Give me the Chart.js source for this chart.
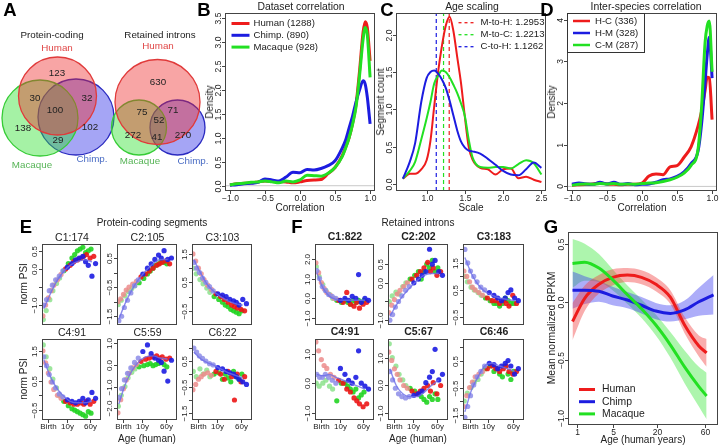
<!DOCTYPE html>
<html><head><meta charset="utf-8">
<script src="https://cdn.jsdelivr.net/npm/chart.js@4.4.1/dist/chart.umd.min.js"></script>
<style>
html,body{margin:0;padding:0;background:#fff;}
#fig{position:relative;width:720px;height:446px;overflow:hidden;background:#fff;font-family:"Liberation Sans",Arial,Helvetica,sans-serif;color:#222;}
#fig canvas{position:absolute;}
.t{position:absolute;white-space:nowrap;transform:translate(-50%,-50%);line-height:1;}
.v{transform:translate(-50%,-50%) rotate(-90deg);}
</style></head><body><div id="fig"></div>
<script>
// ===================== DATA =====================
// A: Venn counts (H only, H&M, H&C, all, M only, C only, M&C)
const vennSets=['Human','Macaque','Chimp.'];
const vennPC=[123,30,32,100,138,102,29];
const vennRI=[630,75,71,52,272,41,270];

// B: Dataset correlation densities
const bX=[-1.0,-0.9,-0.8,-0.7,-0.6,-0.5,-0.4,-0.3,-0.2,-0.1,0.0,0.1,0.2,0.3,0.4,0.5,0.6,0.65,0.7,0.75,0.8,0.85,0.9,0.93,0.96,1.0];
const bHuman=[0.02,0.04,0.05,0.06,0.08,0.1,0.09,0.09,0.08,0.06,0.08,0.11,0.12,0.13,0.25,0.38,0.62,0.8,1.0,1.3,1.7,2.4,3.2,3.42,3.3,2.6];
const bChimp=[0.01,0.02,0.04,0.05,0.07,0.14,0.12,0.1,0.18,0.28,0.27,0.34,0.33,0.36,0.42,0.52,0.78,0.95,1.2,1.45,1.75,2.0,2.19,2.12,1.85,1.29];
const bMacaque=[0.02,0.04,0.05,0.07,0.08,0.1,0.08,0.06,0.1,0.08,0.12,0.22,0.21,0.2,0.26,0.38,0.6,0.78,1.0,1.28,1.65,2.3,3.05,3.3,3.15,2.26];
const bLegend=['Human (1288)','Chimp. (890)','Macaque (928)'];
const bXTicks=[-1,-0.5,0,0.5,1];
const bYTicks=[0,0.5,1,1.5,2,2.5,3,3.5];

// C: Age scaling
const cX=[0.69,0.78,0.85,0.93,1.0,1.05,1.1,1.15,1.2,1.25,1.3,1.35,1.4,1.45,1.5,1.55,1.6,1.7,1.8,1.9,2.0,2.1,2.2,2.3,2.4,2.5];
const cMtoH=[0.075,0.14,0.14,0.2,0.32,0.58,1.05,1.5,1.85,2.12,2.24,2.05,1.7,1.35,0.9,0.5,0.33,0.22,0.2,0.13,0.2,0.21,0.08,0.1,0.06,0.03];
const cMtoC=[0.075,0.18,0.3,0.6,0.88,1.1,1.35,1.45,1.52,1.5,1.43,1.33,1.22,1.08,0.91,0.6,0.36,0.23,0.22,0.23,0.23,0.21,0.27,0.32,0.28,0.13];
const cCtoH=[0.075,0.3,0.55,1.1,1.42,1.5,1.52,1.48,1.4,1.29,1.12,0.92,0.72,0.57,0.49,0.45,0.44,0.41,0.34,0.26,0.18,0.13,0.12,0.2,0.29,0.22];
const cScale=[1.2953,1.2213,1.1262];
const cLegend=['M-to-H: 1.2953','M-to-C: 1.2213','C-to-H: 1.1262'];
const cXTicks=[1,1.5,2,2.5];
const cYTicks=[0,0.5,1,1.5,2];

// D: Inter-species correlation
const dX=[-1.0,-0.9,-0.8,-0.7,-0.6,-0.5,-0.4,-0.3,-0.2,-0.1,0.0,0.1,0.2,0.3,0.4,0.5,0.6,0.7,0.8,0.85,0.9,0.93,0.96,1.0];
const dHC=[0.03,0.04,0.05,0.06,0.08,0.06,0.05,0.04,0.05,0.05,0.08,0.25,0.3,0.28,0.47,0.5,0.7,0.95,1.45,1.8,2.3,2.62,2.6,1.6];
const dHM=[0.05,0.08,0.06,0.05,0.1,0.06,0.1,0.05,0.07,0.04,0.05,0.06,0.1,0.16,0.18,0.24,0.35,0.55,0.85,1.5,2.5,3.15,3.58,2.6];
const dCM=[0.03,0.05,0.06,0.05,0.07,0.06,0.07,0.05,0.06,0.05,0.07,0.08,0.09,0.12,0.16,0.22,0.32,0.5,0.9,1.9,3.45,3.85,3.97,2.75];
const dLegend=['H-C (336)','H-M (328)','C-M (287)'];
const dXTicks=[-1,-0.5,0,0.5,1];
const dYTicks=[0,1,2,3,4];

// E/F: clusters (x: Birth=0, 10y=1, 60y=2.3)
const ageTicks=[0,1,2.3];
const ageLabels=['Birth','10y','60y'];
const ptXH=[-0.3,-0.15,0.0,0.15,0.3,0.5,0.7,0.95,1.2,1.4,1.6,1.8,1.95,2.1,2.3,2.5];
const ptXC=[-0.25,-0.1,0.05,0.22,0.4,0.6,0.8,1.05,1.3,1.5,1.7,1.9,2.05,2.2,2.4,2.6];
const ptXM=[-0.28,-0.12,0.08,0.25,0.45,0.62,0.85,1.1,1.3,1.45,1.6,1.75,1.9,2.05,2.2,2.35];
const fitX=[-0.25,0.1,0.45,0.8,1.2,1.6,2.0,2.4];

const eTitles=['C1:174','C2:105','C3:103','C4:91','C5:59','C6:22'];
const eC1H=[-1.3,-1.0,-0.8,-0.6,-0.45,-0.3,-0.15,0.0,0.1,0.2,0.25,0.3,0.35,0.4,0.3,0.35];
const eC1C=[-1.0,-0.85,-0.6,-0.45,-0.3,-0.2,-0.05,0.05,0.15,0.25,0.3,0.35,0.2,0.1,-0.2,0.15];
const eC1M=[-1.4,-1.15,-0.85,-0.6,-0.4,-0.25,-0.05,0.15,0.3,0.4,0.5,0.55,0.6,0.45,0.5,0.55];
const eC1T=[-1.1,-0.7,-0.35,-0.1,0.1,0.2,0.25,0.2];
const eC2H=[-1.0,-0.9,-0.75,-0.6,-0.5,-0.4,-0.3,-0.15,-0.05,0.05,0.15,0.25,0.3,0.35,0.4,0.3];
const eC2C=[-1.65,-1.5,-1.2,-0.95,-0.7,-0.45,-0.25,-0.05,0.15,0.3,0.45,0.6,0.5,0.75,0.45,0.5];
const eC2M=[-1.1,-0.95,-0.8,-0.65,-0.55,-0.45,-0.35,-0.2,-0.05,0.05,0.15,0.25,0.3,0.4,0.35,0.3];
const eC2T=[-1.6,-1.05,-0.6,-0.25,0.05,0.3,0.45,0.45];
const eC3H=[1.5,1.25,1.0,0.8,0.6,0.4,0.25,0.1,0.0,-0.1,-0.2,-0.3,-0.35,-0.4,-0.45,-0.5];
const eC3C=[1.2,1.0,0.85,0.65,0.5,0.35,0.2,0.1,0.05,0.0,-0.1,-0.15,-0.2,-0.3,-0.1,-0.25];
const eC3M=[1.0,0.8,0.6,0.45,0.3,0.15,0.0,-0.1,-0.2,-0.3,-0.35,-0.45,-0.5,-0.55,-0.6,-0.5];
const eC3T=[1.3,0.85,0.45,0.2,0.0,-0.15,-0.25,-0.3];
const eC4H=[1.5,1.1,0.75,0.45,0.2,0.0,-0.1,-0.2,-0.25,-0.3,-0.3,-0.25,-0.3,-0.2,-0.3,-0.2];
const eC4C=[1.3,1.0,0.7,0.45,0.25,0.05,-0.05,-0.15,-0.2,-0.25,-0.2,-0.1,-0.25,-0.15,0.1,-0.1];
const eC4M=[1.7,1.3,0.9,0.55,0.25,0.0,-0.2,-0.35,-0.45,-0.5,-0.55,-0.6,-0.65,-0.7,-0.55,-0.6];
const eC4T=[1.2,0.65,0.25,0.0,-0.2,-0.25,-0.25,-0.2];
const eC5H=[-2.2,-1.6,-1.1,-0.7,-0.4,-0.15,0.0,0.15,0.25,0.3,0.35,0.4,0.3,0.35,0.25,0.3];
const eC5C=[-1.5,-1.1,-0.7,-0.4,-0.15,0.1,0.3,0.6,0.9,0.5,0.3,0.2,0.1,-0.3,-0.75,0.2];
const eC5M=[-1.9,-1.4,-1.0,-0.6,-0.35,-0.2,-0.1,-0.05,0.0,0.05,-0.05,0.0,0.05,0.1,0.0,-0.1];
const eC5T=[-1.8,-0.9,-0.3,0.1,0.35,0.4,0.3,0.25];
const eC6H=[-0.6,-0.4,-0.2,-0.1,0.0,0.05,-0.05,0.1,0.0,-0.2,0.1,-0.1,-1.0,0.0,-0.3,-0.1];
const eC6C=[1.0,0.85,0.7,0.6,0.5,0.4,0.35,0.25,0.2,0.1,0.05,0.0,-0.1,-0.2,-0.3,-0.4];
const eC6M=[0.1,-0.1,0.2,0.0,0.15,-0.1,0.0,0.05,-0.2,0.0,-0.15,-0.3,0.1,-0.1,-0.2,0.0];
const eC6T=[0.85,0.6,0.45,0.35,0.2,0.05,-0.05,-0.15];

const fTitles=['C1:822','C2:202','C3:183','C4:91','C5:67','C6:46'];
const fC1H=[1.8,1.3,0.8,0.5,0.3,0.15,0.0,-0.1,-0.2,0.3,-0.3,-0.4,-0.2,-0.5,-0.3,-0.2];
const fC1C=[1.4,1.0,0.6,0.4,0.2,0.1,0.0,-0.1,0.0,-0.1,0.1,0.0,1.2,-0.2,0.0,-0.1];
const fC1M=[1.6,1.1,0.7,0.4,0.2,0.0,-0.1,-0.2,-0.1,-0.2,-0.3,-0.1,-0.2,-0.1,-0.2,-0.1];
const fC1T=[1.3,0.5,0.1,-0.05,-0.1,-0.1,-0.1,-0.1];
const fC2H=[-0.8,-0.6,-0.45,-0.3,-0.2,-0.1,0.0,0.1,0.2,0.3,0.4,0.55,0.3,0.4,0.2,0.3];
const fC2C=[-1.0,-0.85,-0.65,-0.5,-0.35,-0.2,-0.1,0.0,0.1,0.2,0.3,0.9,0.5,0.6,0.3,0.2];
const fC2M=[-0.5,-0.35,-0.25,-0.3,-0.1,0.0,0.1,0.2,0.3,0.1,0.3,0.5,0.4,0.6,0.3,0.4];
const fC2T=[-0.9,-0.6,-0.35,-0.15,0.05,0.2,0.25,0.25];
const fC3H=[1.2,1.0,0.8,0.6,0.5,0.4,0.3,0.2,0.1,0.1,0.0,0.1,0.0,-0.1,0.3,0.0];
const fC3C=[2.0,1.5,1.2,1.0,0.8,0.6,0.5,0.4,0.3,0.2,0.1,0.2,0.4,0.5,0.2,0.1];
const fC3M=[1.0,0.8,0.6,0.5,0.4,0.3,0.2,0.1,0.0,0.0,-0.1,0.0,0.2,0.1,0.0,0.0];
const fC3T=[1.7,1.1,0.7,0.45,0.3,0.2,0.15,0.1];
const fC4H=[1.4,1.1,0.8,0.6,0.5,0.3,0.2,0.1,0.0,-0.2,-0.3,-0.5,-0.6,-0.7,-0.8,-0.7];
const fC4C=[0.3,0.2,0.2,0.3,0.2,0.1,0.0,0.5,0.3,0.1,0.0,0.2,1.1,0.0,-0.1,-0.2];
const fC4M=[0.0,-0.1,0.0,0.1,-0.1,-0.2,-0.6,0.0,0.0,-0.1,-0.2,-0.3,-0.2,-0.5,-0.4,-0.3];
const fC4T=[0.3,0.25,0.3,0.2,0.1,0.0,-0.1,-0.2];
const fC5H=[1.2,0.9,0.6,0.4,0.2,0.0,-0.1,-0.2,-0.3,-0.2,-0.1,0.0,-0.2,0.1,-0.3,0.0];
const fC5C=[0.5,0.2,-0.1,-0.3,-0.4,-0.45,-0.4,-0.35,-0.3,-0.2,0.1,0.3,0.5,1.3,0.2,0.4];
const fC5M=[1.5,1.0,0.7,0.4,0.2,0.0,-0.1,-0.2,-0.3,-0.4,-0.5,-0.6,-0.4,-0.5,-0.3,-0.5];
const fC5T=[0.6,0.0,-0.3,-0.4,-0.4,-0.25,0.0,0.2];
const fC6H=[-1.2,-0.8,-0.5,-0.3,-0.1,0.0,0.1,0.2,0.3,0.2,0.1,0.2,0.3,0.1,0.0,0.1];
const fC6C=[-1.6,-1.2,-0.8,-0.4,-0.1,0.1,0.3,0.4,0.35,0.2,0.3,0.4,0.5,0.3,0.0,0.2];
const fC6M=[-1.0,-0.7,-0.5,-0.3,-0.2,0.0,0.2,0.3,0.1,0.2,0.0,-0.1,0.3,0.0,-0.2,0.1];
const fC6T=[-1.4,-0.6,-0.1,0.3,0.4,0.3,0.2,0.1];

// G: Mean normalized RPKM
const gAgeHM=[0.77,1.5,2.9,5,8.4,13,19.4,28,39,53,62];
const gAgeC=[0.77,1.5,2.9,5,8.4,13,19.4,28,39,53,71];
const gHuman=[-0.17,0.03,0.15,0.21,0.23,0.21,0.15,0.04,-0.2,-0.38,-0.44];
const gHumanCI=[0.16,0.11,0.08,0.07,0.06,0.06,0.06,0.06,0.07,0.09,0.12];
const gChimp=[0.1,0.1,0.09,0.05,0.015,-0.03,-0.08,-0.1,-0.07,0.0,0.06];
const gChimpCI=[0.16,0.12,0.09,0.08,0.07,0.07,0.07,0.07,0.08,0.12,0.17];
const gMacaque=[0.33,0.34,0.29,0.19,0.06,-0.06,-0.2,-0.37,-0.56,-0.73,-0.81];
const gMacaqueCI=[0.21,0.16,0.12,0.09,0.08,0.08,0.09,0.11,0.14,0.17,0.2];
const gLegend=['Human','Chimp','Macaque'];
const gAgeTicks=[1,5,20,60];
const gYTicks=[-1,-0.5,0,0.5];

// ===================== RENDER =====================
const FONT='"Liberation Sans", Arial, Helvetica, sans-serif';
Chart.defaults.font.family=FONT;
const fig=document.getElementById('fig');
const RED='#ee1c1c', BLUE='#1c1ce0', GREEN='#22e022';
const fmt=(v,d)=>(v<0?'\u2212':'')+Math.abs(v).toFixed(d);
const TF=10, TK=8.5;

function txt(x,y,s,o={}){const d=document.createElement('div');d.className='t'+(o.rot?' v':'');d.textContent=s;
  d.style.left=x+'px';d.style.top=y+'px';d.style.fontSize=(o.fs||TF)+'px';if(o.c)d.style.color=o.c;if(o.b)d.style.fontWeight='bold';fig.appendChild(d);}

const rAxes={id:'rAxes',afterDraw(chart,args,o){
  if(!o||!o.on)return;const ctx=chart.ctx,a=chart.chartArea,sx=chart.scales.x,sy=chart.scales.y;
  ctx.save();ctx.strokeStyle=o.color||'#444';ctx.lineWidth=1;
  ctx.strokeRect(Math.round(a.left)+0.5,Math.round(a.top)+0.5,Math.round(a.right-a.left)-1,Math.round(a.bottom-a.top)-1);
  const tl=o.tl||3;ctx.fillStyle='#222';ctx.font=(o.fs||TK)+'px '+FONT;
  if(o.xt){ctx.textAlign='center';ctx.textBaseline='middle';
    o.xt.forEach((v,i)=>{const px=Math.round(sx.getPixelForValue(v))+0.5;ctx.beginPath();ctx.moveTo(px,a.bottom);ctx.lineTo(px,a.bottom+tl);ctx.stroke();
      const lb=o.xl?o.xl[i]:'';if(lb)ctx.fillText(lb,px,a.bottom+(o.xo||8));});}
  if(o.yt){o.yt.forEach((v,i)=>{const py=Math.round(sy.getPixelForValue(v))+0.5;ctx.beginPath();ctx.moveTo(a.left,py);ctx.lineTo(a.left-tl,py);ctx.stroke();
      const lb=o.yl?o.yl[i]:'';if(lb){ctx.save();ctx.translate(a.left-(o.yo||6.5),py);ctx.rotate(-Math.PI/2);ctx.textAlign='center';ctx.textBaseline='middle';ctx.fillText(lb,0,0);ctx.restore();}});}
  ctx.restore();}};

const rLegend={id:'rLegend',afterDraw(chart,args,o){
  if(!o||!o.items)return;const ctx=chart.ctx,a=chart.chartArea;ctx.save();
  const x=a.left+o.x,y=a.top+o.y;
  if(o.box){ctx.fillStyle='#fff';ctx.strokeStyle='#333';ctx.lineWidth=1;ctx.fillRect(a.left+0.5,a.top+0.5,o.box[0],o.box[1]);ctx.strokeRect(a.left+0.5,a.top+0.5,o.box[0],o.box[1]);}
  ctx.font=(o.fs||9.6)+'px '+FONT;ctx.textBaseline='middle';ctx.textAlign='left';
  o.items.forEach((it,i)=>{const yy=y+i*o.rh;ctx.strokeStyle=it.c;ctx.lineWidth=o.lw||3;ctx.setLineDash(o.dash||[]);
    ctx.beginPath();ctx.moveTo(x,yy);ctx.lineTo(x+o.ll,yy);ctx.stroke();ctx.setLineDash([]);
    ctx.fillStyle='#222';ctx.fillText(it.t,x+o.ll+o.gap,yy);});
  ctx.restore();}};

function panel(p){
  const [bl,bt,br,bb]=p.box;const m=p.m||[26,4,4,22];
  const c=document.createElement('canvas');const W=br-bl+m[0]+m[2],H=bb-bt+m[1]+m[3];
  c.width=W;c.height=H;c.style.left=(bl-m[0])+'px';c.style.top=(bt-m[1])+'px';c.style.width=W+'px';c.style.height=H+'px';
  fig.appendChild(c);
  return new Chart(c,{type:'scatter',data:{datasets:p.datasets},options:{
    responsive:false,animation:false,devicePixelRatio:1,events:[],
    layout:{padding:{left:m[0],top:m[1],right:m[2],bottom:m[3]}},
    plugins:{legend:{display:false},tooltip:{enabled:false},rAxes:p.axes||{},rLegend:p.legend||{}},
    scales:{x:{type:'linear',display:false,min:p.x[0],max:p.x[1]},y:{type:'linear',display:false,min:p.y[0],max:p.y[1],reverse:!!p.rev}},
  }},);
}
Chart.register(rAxes,rLegend);

const line=(xs,ys,col,w,ord,extra={})=>Object.assign({type:'line',data:xs.map((x,i)=>({x,y:ys[i]})),borderColor:col,borderWidth:w,pointRadius:0,
  cubicInterpolationMode:'monotone',fill:false,order:ord},extra);

// ---------- A: Venn ----------
const vennGeo={pc:[[57.5,96,39],[40,118,38],[76,117,38]],ri:[[157.5,102,42.5],[139,127.5,27.5],[177.5,127.5,27.5]]};
const vFill=['rgba(238,40,40,0.42)','rgba(40,225,40,0.42)','rgba(40,40,230,0.42)'];
const vLine=['#e03a3a','#36cc36','#2a2ac0'];
const circleSets=[];
['pc','ri'].forEach(k=>vennGeo[k].forEach((g,i)=>circleSets.push({data:[{x:g[0],y:g[1],r:g[2]}],backgroundColor:vFill[i],borderColor:vLine[i],borderWidth:1.3,
  pointRadius:ctx=>{const s=ctx.chart.scales.x;return Math.abs(s.getPixelForValue(ctx.raw.r)-s.getPixelForValue(0));},order:i})));
panel({box:[0,0,215,172],m:[0,0,0,0],x:[0,215],y:[0,172],rev:true,datasets:circleSets});
const VF=9.8;
txt(52,35,'Protein-coding',{fs:VF});txt(57,47.5,vennSets[0],{fs:VF,c:'#e04646'});
txt(160,35,'Retained introns',{fs:VF});txt(158,46,vennSets[0],{fs:VF,c:'#e04646'});
txt(32,165,vennSets[1],{fs:VF,c:'#56b456'});txt(92,159,vennSets[2],{fs:VF,c:'#4a6cc4'});
txt(140,161,vennSets[1],{fs:VF,c:'#56b456'});txt(193,161,vennSets[2],{fs:VF,c:'#4a6cc4'});
const pcPos=[[57,73],[35,98],[87,98],[55,110],[23,128],[90,127],[58,140]];
const riPos=[[158,82],[142,112],[173,110],[159,120],[133,135],[157,137],[183,135]];
vennPC.forEach((n,i)=>txt(pcPos[i][0],pcPos[i][1],String(n),{fs:VF}));
vennRI.forEach((n,i)=>txt(riPos[i][0],riPos[i][1],String(n),{fs:VF}));

// ---------- B ----------
panel({box:[225,13,375,191],x:[-1.07,1.07],y:[-0.11,3.6],
  datasets:[line([-1.07,1.07],[0,0],'#c8c8c8',1,9,{cubicInterpolationMode:'default'}),
    line(bX,bHuman,RED,3,3),line(bX,bChimp,BLUE,3,2),line(bX,bMacaque,GREEN,3,1)],
  axes:{on:true,xt:bXTicks,xl:bXTicks.map(v=>fmt(v,1)),yt:bYTicks,yl:bYTicks.map(v=>fmt(v,1))},
  legend:{items:bLegend.map((t,i)=>({t,c:[RED,BLUE,GREEN][i]})),x:6.5,y:10.5,rh:11.8,ll:18,gap:4,lw:3}});
txt(301,6.5,'Dataset correlation',{fs:10.4});txt(209.5,102,'Density',{rot:true});txt(300,207.5,'Correlation');

// ---------- C ----------
const cYr=[-0.09,2.29];
panel({box:[396,13,546,191],x:[0.6,2.56],y:cYr,
  datasets:[line(cX,cMtoH,RED,2,3),line(cX,cMtoC,GREEN,2,2),line(cX,cCtoH,BLUE,2,1),
    ...cScale.map((v,i)=>line([v,v],cYr,[RED,GREEN,BLUE][i],1.2,5,{borderDash:[4,3],cubicInterpolationMode:'default'}))],
  axes:{on:true,xt:cXTicks,xl:cXTicks.map(v=>fmt(v,1)),yt:cYTicks,yl:cYTicks.map(v=>fmt(v,1))},
  legend:{items:cLegend.map((t,i)=>({t,c:[RED,GREEN,BLUE][i]})),x:62.5,y:9.7,rh:12,ll:17,gap:5,lw:1.3,dash:[3,3]}});
txt(472,6.5,'Age scaling',{fs:10.4});txt(380.5,102,'Segment count',{rot:true});txt(471,207.5,'Scale');

// ---------- D ----------
panel({box:[567,13,717,191],m:[26,4,3,22],x:[-1.07,1.07],y:[-0.11,4.16],
  datasets:[line([-1.07,1.07],[0,0],'#c8c8c8',1,9,{cubicInterpolationMode:'default'}),
    line(dX,dHC,RED,3,3),line(dX,dHM,BLUE,3,2),line(dX,dCM,GREEN,3,1)],
  axes:{on:true,xt:dXTicks,xl:dXTicks.map(v=>fmt(v,1)),yt:dYTicks,yl:dYTicks.map(v=>String(v))},
  legend:{items:dLegend.map((t,i)=>({t,c:[RED,BLUE,GREEN][i]})),box:[77,39],x:6,y:8,rh:12,ll:17,gap:5,lw:2.5}});
txt(646,6.5,'Inter-species correlation',{fs:10.4});txt(551.5,102,'Density',{rot:true});txt(642,207.5,'Correlation');

// ---------- E/F mini panels ----------
const light={H:'rgba(236,140,140,0.85)',C:'rgba(140,140,232,0.85)',M:'rgba(140,226,140,0.85)'};
const dark={H:'rgba(236,22,22,0.9)',C:'rgba(28,28,226,0.9)',M:'rgba(34,212,34,0.9)'};
function pts(xs,ys,sp,ord){return {type:'scatter',data:xs.map((x,i)=>({x,y:ys[i]})),pointRadius:2.6,borderWidth:0,order:ord,
  pointBackgroundColor:ctx=>(ctx.raw&&ctx.raw.x<0.85)?light[sp]:dark[sp]};}
function mini(box,d,yr,yt,yl,bottom){
  panel({box,m:[22,3,3,14],x:[-0.35,2.9],y:yr,
    datasets:[line(fitX,d.T,'rgba(110,110,232,0.8)',1.4,0),pts(ptXC,d.C,'C',1),pts(ptXH,d.H,'H',2),pts(ptXM,d.M,'M',3)],
    axes:{on:true,fs:8,yo:7.5,tl:3,xt:bottom?ageTicks:null,xl:ageLabels,xo:7,yt,yl}});
}
const colsE=[[42,102],[117,178],[192,253]],colsF=[[315,375],[388,449],[463,525]],rows=[[243,325],[338,420]];
const eSets=[{H:eC1H,C:eC1C,M:eC1M,T:eC1T},{H:eC2H,C:eC2C,M:eC2M,T:eC2T},{H:eC3H,C:eC3C,M:eC3M,T:eC3T},
  {H:eC4H,C:eC4C,M:eC4M,T:eC4T},{H:eC5H,C:eC5C,M:eC5M,T:eC5T},{H:eC6H,C:eC6C,M:eC6M,T:eC6T}];
const fSets=[{H:fC1H,C:fC1C,M:fC1M,T:fC1T},{H:fC2H,C:fC2C,M:fC2M,T:fC2T},{H:fC3H,C:fC3C,M:fC3M,T:fC3T},
  {H:fC4H,C:fC4C,M:fC4M,T:fC4T},{H:fC5H,C:fC5C,M:fC5M,T:fC5T},{H:fC6H,C:fC6C,M:fC6M,T:fC6T}];
const eY=[[-1.55,0.69],[-1.8,0.98],[-1.0,1.85],[-0.83,1.9],[-2.53,1.17],[-1.77,1.35]];
const eYT=[[-1,-0.5,0,0.5],[-1.5,-1,-0.5,0,0.5],[-0.5,0,0.5,1,1.5],[-0.5,0,0.5,1,1.5],[-2,-1,0,1],[-1.5,-1,-0.5,0,0.5,1]];
const eYL=[['\u22121.0','','0.0','0.5'],['\u22121.5','','\u22120.5','','0.5'],['\u22120.5','','0.5','','1.5'],['\u22120.5','','0.5','','1.5'],['\u22122.0','\u22121.0','0.0','1.0'],['\u22121.5','','\u22120.5','','0.5','']];
const fY=[[-1.35,2.75],[-1.13,1.04],[-0.8,2.2],[-1.25,1.5],[-1.24,1.67],[-1.7,1.3]];
const fYT=[[-1,0,1,2],[-1,-0.5,0,0.5],[-0.5,0,0.5,1,1.5,2],[-1,0,1],[-1,0,1],[-1.5,-1,-0.5,0,0.5,1]];
const fYL=[['\u22121.0','0.0','1.0','2.0'],['\u22121.0','','0.0','0.5'],['\u22120.5','','0.5','','1.5',''],['\u22121.0','0.0','1.0'],['\u22121.0','0.0','1.0'],['\u22121.5','','\u22120.5','','0.5','']];
for(let i=0;i<6;i++){
  const r=rows[Math.floor(i/3)],ce=colsE[i%3],cf=colsF[i%3],bottom=i>=3;
  mini([ce[0],r[0],ce[1],r[1]],eSets[i],eY[i],eYT[i],eYL[i],bottom);
  mini([cf[0],r[0],cf[1],r[1]],fSets[i],fY[i],fYT[i],fYL[i],bottom);
  txt((ce[0]+ce[1])/2,r[0]-6,eTitles[i],{fs:10.5});
  txt((cf[0]+cf[1])/2,r[0]-7,fTitles[i],{fs:10.5,b:true});
}
txt(152,223,'Protein-coding segments');txt(418,223,'Retained introns');
txt(24,284,'norm PSI',{rot:true});txt(24,379,'norm PSI',{rot:true});
txt(147,439,'Age (human)');txt(418,439,'Age (human)');

// ---------- G ----------
const q=a=>Math.pow(a,0.25);
function band(ages,mean,ci,col,ord){
  return [line(ages.map(q),mean.map((v,i)=>v+ci[i]),'rgba(0,0,0,0)',0,ord,{fill:'+1',backgroundColor:col}),
          line(ages.map(q),mean.map((v,i)=>v-ci[i]),'rgba(0,0,0,0)',0,ord)];
}
panel({box:[568,232,718,425],m:[26,4,2,21],x:[0.874,2.965],y:[-1.06,0.6],
  datasets:[line(gAgeHM.map(q),gMacaque,GREEN,3,0),line(gAgeC.map(q),gChimp,BLUE,3,1),line(gAgeHM.map(q),gHuman,RED,3,2),
    ...band(gAgeHM,gHuman,gHumanCI,'rgba(240,60,60,0.42)',5),...band(gAgeC,gChimp,gChimpCI,'rgba(60,60,240,0.42)',6),...band(gAgeHM,gMacaque,gMacaqueCI,'rgba(60,230,60,0.42)',7)],
  axes:{on:true,xt:gAgeTicks.map(q),xl:gAgeTicks.map(String),xo:7.5,yt:gYTicks,yl:gYTicks.map(v=>fmt(v,1))},
  legend:{items:gLegend.map((t,i)=>({t,c:[RED,BLUE,GREEN][i]})),x:11,y:157.5,rh:12.2,ll:16,gap:7,lw:3,fs:10.4}});
txt(551.5,328,'Mean normalized RPKM',{fs:10.4,rot:true});txt(643,440,'Age (human years)');

// ---------- panel letters ----------
[['A',10,10],['B',204,10],['C',387,10],['D',547,10],['E',26,227],['F',297,227],['G',551,227]].forEach(l=>txt(l[1],l[2],l[0],{fs:18.5,b:true,c:'#000'}));
</script></body></html>
